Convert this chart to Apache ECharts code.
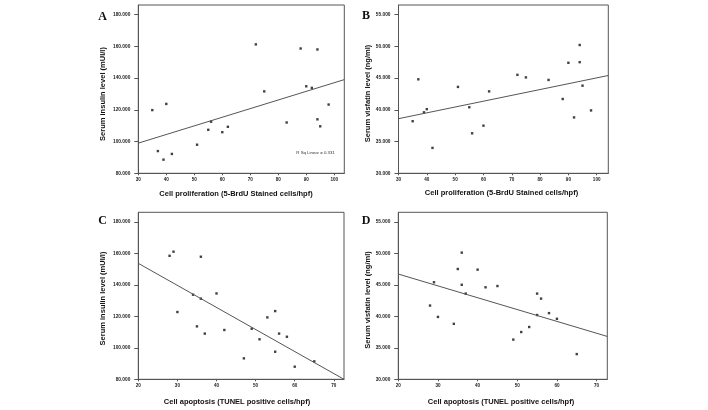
<!DOCTYPE html>
<html>
<head>
<meta charset="utf-8">
<script src="https://cdn.jsdelivr.net/npm/echarts@6/dist/echarts.min.js"></script>
<style>
html,body{margin:0;padding:0;background:#fff;}
#c{width:708px;height:410px;}
</style>
</head>
<body>
<div id="c"></div>
<script>
// Panel A: cell proliferation vs serum insulin
const aX = [35, 40, 37, 39, 42, 51, 55, 56, 60, 62, 72, 75, 83, 88, 90, 92, 94, 94, 95, 98];
const aY = [119.8, 123.7, 94, 88.6, 92.2, 98, 107.4, 112.5, 105.9, 109.3, 161.2, 131.6, 112, 158.6, 134.8, 133.8, 158, 114, 109.6, 123.3];
// Panel B: cell proliferation vs serum visfatin
const bX = [35, 37, 39, 40, 42, 51, 55, 56, 60, 62, 72, 75, 83, 88, 90, 92, 94, 94, 95, 98];
const bY = [38.2, 44.8, 39.6, 40.1, 34.0, 43.6, 40.4, 36.3, 37.5, 42.9, 45.5, 45.1, 44.7, 41.7, 47.4, 38.8, 50.2, 47.5, 43.8, 39.9];
// Panel C: cell apoptosis vs serum insulin
const cX = [28, 29, 36, 30, 34, 36, 40, 35, 37, 42, 47, 49, 51, 53, 55, 55, 56, 58, 60, 65];
const cY = [158.4, 161, 157.8, 122.7, 133.7, 131.2, 134.5, 113.6, 109, 111.3, 93.3, 112.1, 105.4, 119.3, 123.3, 97.5, 109, 107, 88, 91.4];
// Panel D: cell apoptosis vs serum visfatin
const dX = [28, 29, 30, 34, 35, 36, 36, 37, 40, 42, 45, 49, 51, 53, 55, 56, 55, 58, 60, 65];
const dY = [41.7, 45.4, 39.9, 38.8, 47.5, 50.1, 45.0, 43.6, 47.4, 44.6, 44.8, 36.3, 37.5, 38.3, 43.6, 42.8, 40.2, 40.5, 39.6, 34.0];
// Fit lines (endpoints)
const aFitX = [30, 103.6], aFitY = [99, 139];
const bFitX = [30, 104.1], bFitY = [38.6, 45.4];
const cFitX = [20, 72.6], cFitY = [153.6, 80];
const dFitX = [20, 72.7], dFitY = [46.7, 36.8];
// Tick labels
const insulinTicks = [80, 100, 120, 140, 160, 180];
const visfatinTicks = [30, 35, 40, 45, 50, 55];
const prolifTicks = [30, 40, 50, 60, 70, 80, 90, 100];
const apopTicks = [20, 30, 40, 50, 60, 70];
const rsqText = 'R Sq Linear = 0.331';
const xTitleTop = 'Cell proliferation (5-BrdU Stained cells/hpf)';
const xTitleBottom = 'Cell apoptosis (TUNEL positive cells/hpf)';
const yTitleInsulin = 'Serum insulin level (mUI/l)';
const yTitleVisfatin = 'Serum visfatin level (ng/ml)';
const panelLetters = ['A', 'B', 'C', 'D'];

const FONT = '"Liberation Sans", Arial, sans-serif';
const AX = '#555';

const grids = [
  {left: 138.3, top: 5, width: 206, height: 168.3},
  {left: 398.5, top: 5, width: 209.8, height: 168.3},
  {left: 138.3, top: 212.3, width: 205.7, height: 167},
  {left: 398.3, top: 212.3, width: 209, height: 167}
].map(g => Object.assign({show: true, borderColor: AX, borderWidth: 1, backgroundColor: '#fff'}, g));

function xAxis(i, min, max, ticks) {
  return {
    type: 'value', gridIndex: i, min: min, max: max,
    splitLine: {show: false},
    axisLine: {show: true, lineStyle: {color: AX, width: 1}},
    axisTick: {show: true, length: 2, lineStyle: {color: AX}, customValues: ticks},
    axisLabel: {customValues: ticks, fontSize: 4.6, fontWeight: 'bold', color: '#222', fontFamily: FONT, margin: 4}
  };
}
function yAxis(i, min, max, ticks) {
  return {
    type: 'value', gridIndex: i, min: min, max: max,
    splitLine: {show: false},
    axisLine: {show: true, lineStyle: {color: AX, width: 1}},
    axisTick: {show: true, length: 4, lineStyle: {color: AX}, customValues: ticks},
    axisLabel: {customValues: ticks, fontSize: 4.8, fontWeight: 'bold', color: '#222', fontFamily: FONT, margin: 8,
      formatter: v => v.toFixed(3)}
  };
}
function pts(xs, ys) { return xs.map((x, k) => [x, ys[k]]); }
function scatter(i, xs, ys) {
  return {type: 'scatter', xAxisIndex: i, yAxisIndex: i, data: pts(xs, ys), symbol: 'rect', symbolSize: 2.4,
    itemStyle: {color: '#111'}, silent: true, animation: false};
}
function fit(i, xs, ys) {
  return {type: 'line', xAxisIndex: i, yAxisIndex: i, data: pts(xs, ys), symbol: 'none',
    lineStyle: {color: '#555', width: 1}, silent: true, animation: false, clip: true};
}
function txt(x, y, s, opts) {
  return Object.assign({type: 'text', x: x, y: y, silent: true,
    style: Object.assign({text: s, fill: '#111', font: 'bold 7.5px ' + FONT, textAlign: 'center', textVerticalAlign: 'middle'}, opts || {})});
}
function ytxt(x, y, s) {
  return {type: 'text', x: x, y: y, rotation: Math.PI / 2, silent: true,
    style: {text: s, fill: '#111', font: 'bold 7.5px ' + FONT, textAlign: 'center', textVerticalAlign: 'middle'}};
}
function letter(x, y, s) {
  return {type: 'text', x: x, y: y, silent: true,
    style: {text: s, fill: '#111', font: 'bold 12px "Liberation Serif", "Times New Roman", serif', textAlign: 'center', textVerticalAlign: 'middle'}};
}

const chart = echarts.init(document.getElementById('c'), null, {renderer: 'canvas'});
chart.setOption({
  backgroundColor: '#fff',
  animation: false,
  grid: grids,
  xAxis: [xAxis(0, 30, 103.6, prolifTicks), xAxis(1, 30, 104.1, prolifTicks), xAxis(2, 20, 72.6, apopTicks), xAxis(3, 20, 72.7, apopTicks)],
  yAxis: [yAxis(0, 80, 186, insulinTicks), yAxis(1, 30, 56.5, visfatinTicks), yAxis(2, 80, 186, insulinTicks), yAxis(3, 30, 56.5, visfatinTicks)],
  series: [
    fit(0, aFitX, aFitY), scatter(0, aX, aY),
    fit(1, bFitX, bFitY), scatter(1, bX, bY),
    fit(2, cFitX, cFitY), scatter(2, cX, cY),
    fit(3, dFitX, dFitY), scatter(3, dX, dY)
  ],
  graphic: [
    txt(236, 193.8, xTitleTop),
    txt(501.5, 193.3, xTitleTop),
    txt(237, 401.5, xTitleBottom),
    txt(501, 401.5, xTitleBottom),
    ytxt(103, 94, yTitleInsulin),
    ytxt(367.5, 93.5, yTitleVisfatin),
    ytxt(103, 298.5, yTitleInsulin),
    ytxt(367.5, 300, yTitleVisfatin),
    letter(102.5, 16.5, panelLetters[0]),
    letter(366, 16, panelLetters[1]),
    letter(102.5, 220.5, panelLetters[2]),
    letter(366, 221, panelLetters[3]),
    txt(315.5, 152.7, rsqText, {font: '4.3px ' + FONT, fill: '#333'})
  ]
});
</script>
</body>
</html>
